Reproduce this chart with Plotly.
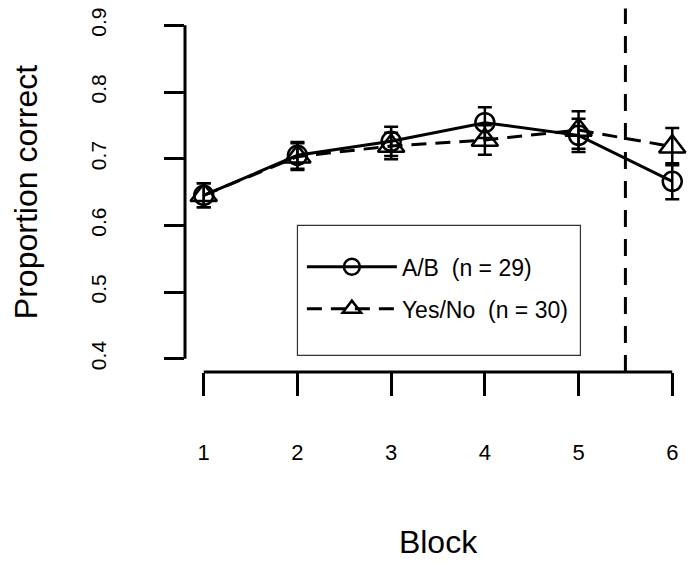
import plotly.graph_objects as go

# ---- data ----
blocks = [1, 2, 3, 4, 5, 6]
ab_mean = [0.645, 0.705, 0.726, 0.754, 0.735, 0.666]
ab_se = [0.018, 0.020, 0.022, 0.023, 0.025, 0.027]
yn_mean = [0.645, 0.703, 0.719, 0.728, 0.743, 0.718]
yn_se = [0.018, 0.020, 0.020, 0.022, 0.028, 0.028]
ab_name = "A/B  (n = 29)"
yn_name = "Yes/No  (n = 30)"
y_ticks = [0.4, 0.5, 0.6, 0.7, 0.8, 0.9]
y_tick_text = ["0.4", "0.5", "0.6", "0.7", "0.8", "0.9"]
x_tick_text = ["1", "2", "3", "4", "5", "6"]
split_at = 5.5

FONT = "Liberation Sans, Arial, Helvetica, sans-serif"
BLK = "black"

fig = go.Figure()
fig.add_trace(go.Scatter(
    x=blocks, y=ab_mean, name=ab_name, mode="lines+markers",
    line=dict(color=BLK, width=3, dash="solid"),
    marker=dict(symbol="circle-open", size=19, color=BLK, line=dict(width=2.5, color=BLK)),
    error_y=dict(type="data", array=ab_se, visible=True, color=BLK, thickness=2.5, width=7),
    legendgroup="ab",
))
fig.add_trace(go.Scatter(
    x=blocks, y=yn_mean, name=yn_name, mode="lines+markers",
    line=dict(color=BLK, width=3, dash="15px,9px"),
    marker=dict(symbol="triangle-up-open", size=23, color=BLK, line=dict(width=2.5, color=BLK)),
    error_y=dict(type="data", array=yn_se, visible=True, color=BLK, thickness=2.5, width=7),
    legendgroup="yn",
))

shapes = [
    # y-axis line spanning the tick range only (R style)
    dict(type="line", xref="paper", yref="y", x0=0, x1=0, y0=y_ticks[0], y1=y_ticks[-1],
         line=dict(color=BLK, width=3)),
    # x-axis line spanning the tick range only
    dict(type="line", xref="x", yref="paper", x0=blocks[0], x1=blocks[-1], y0=0, y1=0,
         line=dict(color=BLK, width=3)),
    # vertical dashed separator
    dict(type="line", xref="x", yref="paper", x0=split_at, x1=split_at, y0=0, y1=1.01,
         line=dict(color=BLK, width=3, dash="17px,12px")),
    # legend box
    dict(type="rect", xref="x", yref="y", x0=2.0, x1=5.02, y0=0.405, y1=0.6,
         line=dict(color="#333333", width=1.2), fillcolor="white", layer="below"),
]

# the page body has an 8px margin, so the margins are shifted by 8px
fig.update_layout(
    width=700, height=566,
    margin=dict(l=177, r=17, t=4, b=202, autoexpand=False),
    paper_bgcolor="white", plot_bgcolor="white",
    font=dict(family=FONT, color=BLK, size=21),
    showlegend=True,
    legend=dict(
        x=0.231, y=0.352, xanchor="left", yanchor="top",
        bgcolor="rgba(0,0,0,0)", borderwidth=0,
        font=dict(size=23, family=FONT, color=BLK),
        itemwidth=90, tracegroupgap=9, itemclick=False,
    ),
    shapes=shapes,
    xaxis=dict(
        range=[0.8, 6.2], tickmode="array", tickvals=blocks, ticktext=x_tick_text,
        showgrid=False, zeroline=False, showline=False,
        ticks="outside", ticklen=23, tickwidth=3, tickcolor=BLK,
        ticklabelstandoff=38, tickfont=dict(size=22), ticklabeloverflow="allow",
        title=dict(text="Block", font=dict(size=32), standoff=66),
        automargin=False,
    ),
    yaxis=dict(
        range=[0.38, 0.92], tickmode="array", tickvals=y_ticks, ticktext=y_tick_text,
        showgrid=False, zeroline=False, showline=False,
        ticks="outside", ticklen=20, tickwidth=3, tickcolor=BLK,
        tickangle=-90, ticklabelstandoff=50, tickfont=dict(size=21),
        ticklabeloverflow="allow",
        title=dict(text="Proportion correct", font=dict(size=32), standoff=40),
        automargin=False,
    ),
)

fig.write_html("out.html")
